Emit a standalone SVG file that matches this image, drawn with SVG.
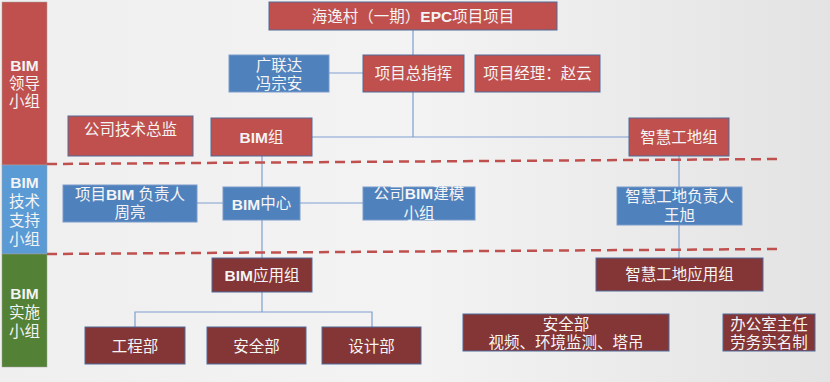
<svg xmlns="http://www.w3.org/2000/svg" width="830" height="382" viewBox="0 0 830 382">
<defs>
<linearGradient id="bg" x1="0" y1="0" x2="1" y2="0">
<stop offset="0" stop-color="#efefef"/>
<stop offset="0.5" stop-color="#f3f3f3"/>
<stop offset="1" stop-color="#e3e3e3"/>
</linearGradient>
<style>
.t{font-family:"Liberation Sans","Noto Sans CJK SC",sans-serif;font-size:15.5px;fill:#f4f4f4;text-anchor:middle;dominant-baseline:central}
.b{font-weight:bold}
.red{fill:#c0504d;stroke:#4f6b9a;stroke-width:1}
.blue{fill:#4f81bd;stroke:#7a9bc9;stroke-width:1}
.dark{fill:#843535;stroke:#4f6b9a;stroke-width:1}
.c{stroke:#7f9fcf;stroke-width:1.2;fill:none}
.d{stroke:#c0504d;stroke-width:2.5;stroke-dasharray:10 6;fill:none}
</style>
</defs>
<rect width="830" height="382" fill="url(#bg)"/>

<g id="band-lead"><rect x="2" y="2" width="45" height="163" fill="#c0504d" stroke="#a0a0a0" stroke-width="0.5"/>
<text class="t" x="24.5" y="65"><tspan class="b">BIM</tspan></text><text class="t" x="24.5" y="83">领导</text><text class="t" x="24.5" y="101">小组</text></g>
<g id="band-tech"><rect x="2" y="165" width="45" height="89" fill="#5b9bd5" stroke="#a0a0a0" stroke-width="0.5"/>
<text class="t" x="24.5" y="182"><tspan class="b">BIM</tspan></text><text class="t" x="24.5" y="201">技术</text><text class="t" x="24.5" y="220">支持</text><text class="t" x="24.5" y="239">小组</text></g>
<g id="band-impl"><rect x="2" y="254" width="45" height="113" fill="#538135" stroke="#a0a0a0" stroke-width="0.5"/>
<text class="t" x="24.5" y="293"><tspan class="b">BIM</tspan></text><text class="t" x="24.5" y="312">实施</text><text class="t" x="24.5" y="331">小组</text></g>

<g id="connectors">
<path class="c" d="M413 30V137M312 137H629M329 73H363"/>
<path class="c" d="M262 156V258M197 203H223M300 203H363"/>
<path class="c" d="M679 156V258"/>
<path class="c" d="M262 292V312M135 327V312H372V327"/>
<path class="d" d="M47 164L780 159"/>
<path class="d" d="M47 254L780 249"/>
</g>

<g id="n-top"><rect class="red" x="269" y="2" width="288" height="28"/><text class="t" x="413" y="16">海逸村（一期）<tspan class="b">EPC</tspan>项目项目</text></g>
<g id="n-gld"><rect class="blue" x="229" y="55" width="100" height="37"/><text class="t" x="279" y="65">广联达</text><text class="t" x="279" y="83">冯宗安</text></g>
<g id="n-zzh"><rect class="red" x="363" y="55" width="101" height="37"/><text class="t" x="413.5" y="73.5">项目总指挥</text></g>
<g id="n-jl"><rect class="red" x="475" y="55" width="125" height="37"/><text class="t" x="537.5" y="73.5">项目经理：赵云</text></g>
<g id="n-zj"><rect class="red" x="68" y="116" width="125" height="40"/><text class="t" x="130.5" y="129">公司技术总监</text></g>
<g id="n-bimz"><rect class="red" x="211" y="118" width="101" height="38"/><text class="t" x="261.5" y="137"><tspan class="b">BIM</tspan>组</text></g>
<g id="n-zhgd"><rect class="red" x="629" y="118" width="100" height="38"/><text class="t" x="679" y="137">智慧工地组</text></g>

<g id="n-fzr"><rect class="blue" x="63" y="185" width="134" height="37"/><text class="t" x="130" y="194">项目<tspan class="b">BIM</tspan> 负责人</text><text class="t" x="130" y="212">周亮</text></g>
<g id="n-bimzx"><rect class="blue" x="223" y="187" width="77" height="33"/><text class="t" x="261.5" y="203.5"><tspan class="b">BIM</tspan>中心</text></g>
<g id="n-jm"><rect class="blue" x="363" y="187" width="112" height="33"/><text class="t" x="419" y="193">公司<tspan class="b">BIM</tspan>建模</text><text class="t" x="419" y="213">小组</text></g>
<g id="n-zhfzr"><rect class="blue" x="617" y="187" width="125" height="38"/><text class="t" x="679.5" y="196">智慧工地负责人</text><text class="t" x="679.5" y="215">王旭</text></g>

<g id="n-bimyy"><rect class="dark" x="212" y="258" width="100" height="34"/><text class="t" x="262" y="275"><tspan class="b">BIM</tspan>应用组</text></g>
<g id="n-zhyy"><rect class="dark" x="596" y="258" width="167" height="33"/><text class="t" x="679.5" y="274.5">智慧工地应用组</text></g>
<g id="n-gc"><rect class="dark" x="85" y="327" width="100" height="37"/><text class="t" x="135" y="346">工程部</text></g>
<g id="n-aq"><rect class="dark" x="207" y="327" width="99" height="37"/><text class="t" x="256.5" y="346">安全部</text></g>
<g id="n-sj"><rect class="dark" x="322" y="327" width="99" height="37"/><text class="t" x="371.5" y="346">设计部</text></g>
<g id="n-aq2"><rect class="dark" x="463" y="314" width="206" height="37"/><text class="t" x="566" y="324">安全部</text><text class="t" x="566" y="342">视频、环境监测、塔吊</text></g>
<g id="n-bgs"><rect class="dark" x="723" y="314" width="92" height="37"/><text class="t" x="769" y="324">办公室主任</text><text class="t" x="769" y="342">劳务实名制</text></g>
</svg>
